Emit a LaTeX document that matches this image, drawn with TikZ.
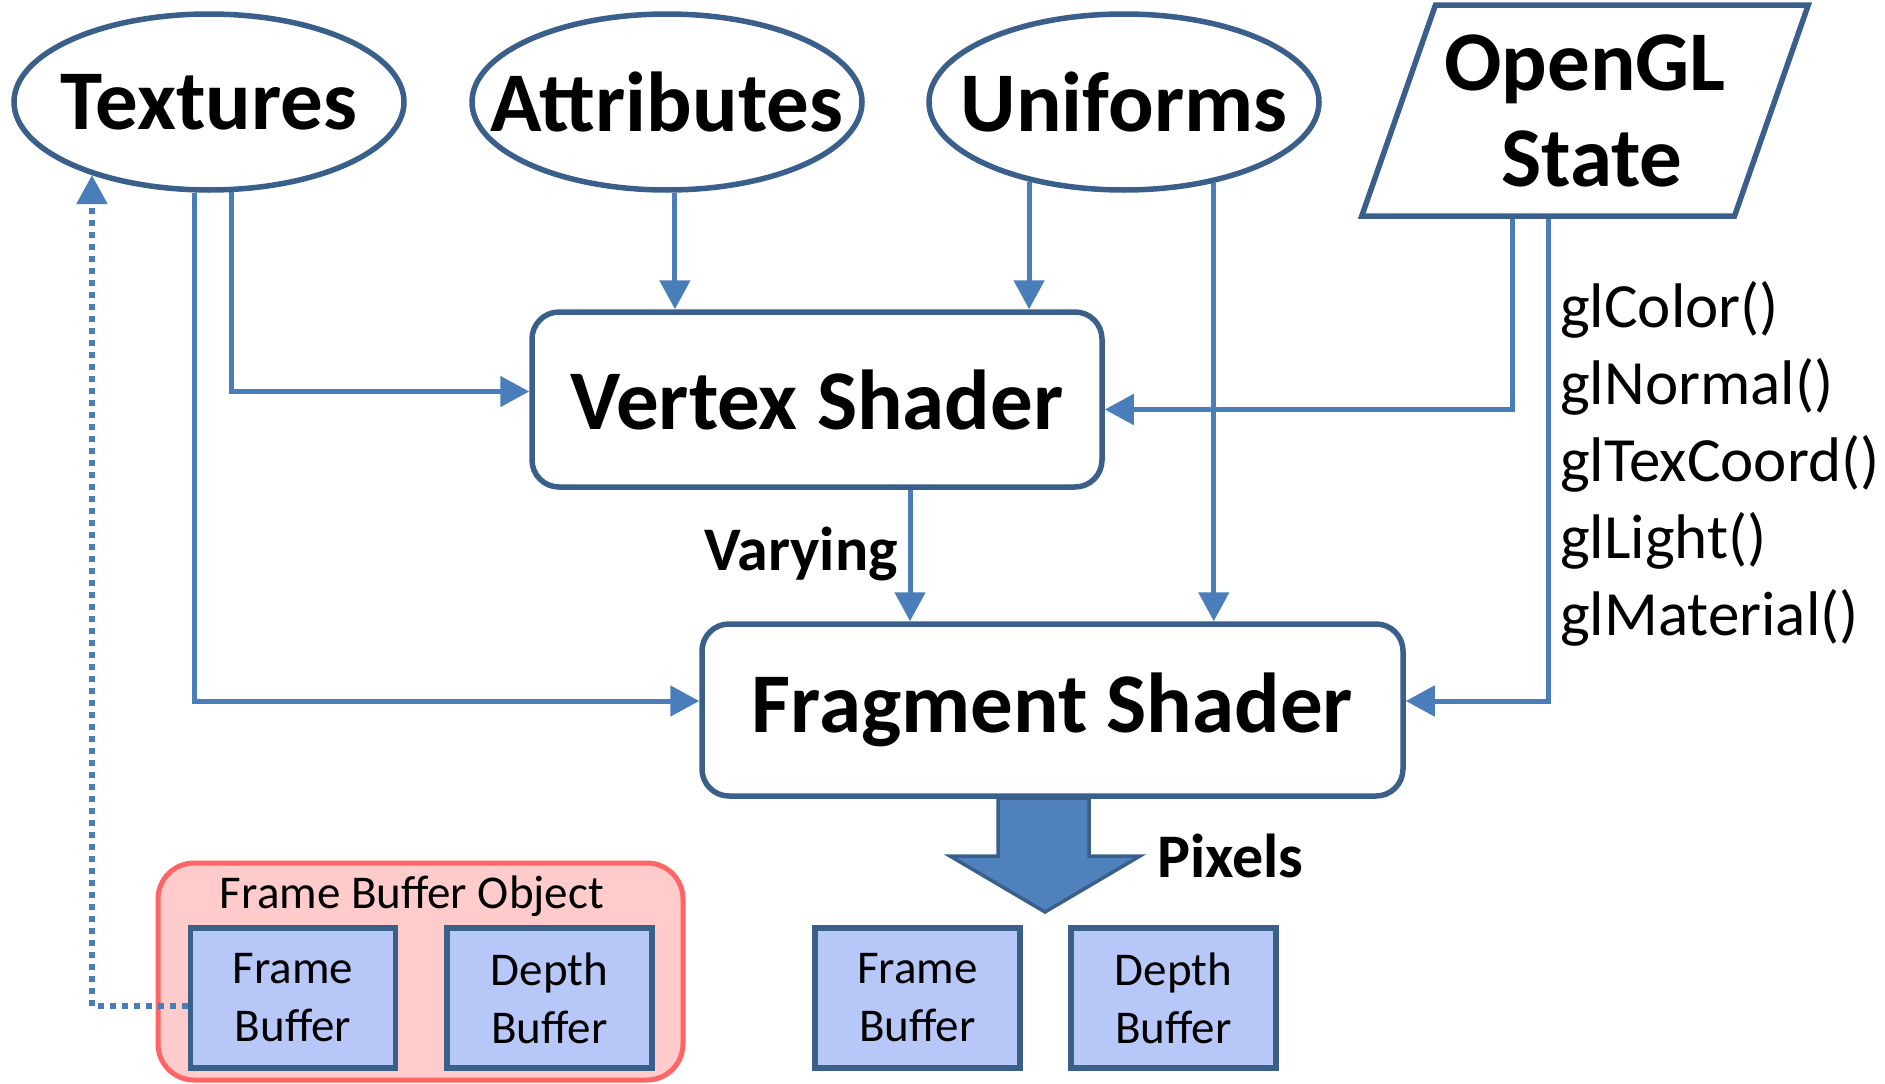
\documentclass[tikz,border=0pt]{standalone}
\usepackage{fontspec}
\setmainfont{Carlito}
\usetikzlibrary{arrows.meta,shapes.geometric,calc}

\definecolor{outlineblue}{HTML}{3A5F8B}
\definecolor{lineblue}{HTML}{4A7EBB}
\definecolor{arrowfill}{HTML}{4F81BD}
\definecolor{bufferfill}{HTML}{B7C8F8}
\definecolor{fbofill}{HTML}{FFCBCB}
\definecolor{fboline}{HTML}{FF6565}

\begin{document}
\begin{tikzpicture}[x=1pt,y=-1pt,
  bigfont/.style={font=\fontsize{85}{96}\selectfont\bfseries},
  src/.style={ellipse, draw=outlineblue, line width=5.5pt, fill=white,
    minimum width=390pt, minimum height=176pt, inner xsep=-60pt,
    inner ysep=0pt, bigfont},
  shader/.style={rectangle, rounded corners=27pt, draw=outlineblue,
    line width=5.5pt, fill=white, inner sep=0pt, bigfont},
  buf/.style={rectangle, draw=outlineblue, fill=bufferfill, line width=5.5pt,
    minimum width=205pt, minimum height=140pt, inner sep=0pt, align=center,
    font=\fontsize{47}{58}\selectfont},
  conn/.style={draw=lineblue, line width=5pt,
    -{Triangle[length=29pt,width=30pt]}},
  dotconn/.style={conn, line width=5.5pt, dash pattern=on 5.5pt off 6.5pt},
  midlabel/.style={font=\fontsize{62}{73}\selectfont\bfseries},
  call/.style={font=\fontsize{63}{73}\selectfont, anchor=base west, inner sep=0pt}
]
\useasboundingbox (0,0) rectangle (1885,1084);

% inputs
\node[src] (tex) at (209,102) {Textures};
\node[src] (att) at (667,102) {Attributes};
\node[src] (uni) at (1124,102) {Uniforms};
\node[trapezium, trapezium left angle=65.5, trapezium right angle=114.5,
  trapezium stretches=true, minimum width=449pt, minimum height=211pt,
  draw=outlineblue, line width=5.5pt, inner sep=0pt, align=center, bigfont]
  (gl) at (1585,110.5) {OpenGL\\[0pt]\hspace*{14pt}State};

% shaders
\node[shader, minimum width=570pt, minimum height=175pt] (vs) at (817,399.5) {Vertex Shader};
\node[shader, minimum width=701pt, minimum height=172pt] (fs) at (1052.5,710) {Fragment Shader};

% frame buffer object
\node[rectangle, rounded corners=36pt, draw=fboline, fill=fbofill, line width=5pt,
  minimum width=525pt, minimum height=217pt] (fbo) at (420.5,971.5) {};
\node[font=\fontsize{47}{58}\selectfont, anchor=base, inner sep=0pt] (fbolbl) at (412,908) {Frame Buffer Object};
\node[buf] (fb1) at (293,998) {Frame\\Buffer};
\node[buf] (db1) at (549.5,998) {Depth\\Buffer};

% output buffers
\node[buf] (fb2) at (917.5,998) {Frame\\Buffer};
\node[buf] (db2) at (1173.5,998) {Depth\\Buffer};

% helper points on the shader and state borders
\coordinate (glA) at ([xshift=-73pt]gl.south);
\coordinate (glB) at ([xshift=-37pt]gl.south);
\coordinate (vsOut) at ([xshift=93pt]vs.south);

% connectors
\draw[conn] (att.275) -- (att.275 |- vs.north);
\draw[conn] (uni.220) -- (uni.220 |- vs.north);
\draw[conn] (uni.318) -- (uni.318 |- fs.north);
\draw[conn] (tex.284) |- ([yshift=8pt]vs.west);
\draw[conn] (tex.261) |- ([yshift=9pt]fs.west);
\draw[conn] (glA) |- ([yshift=-10pt]vs.east);
\draw[conn] (glB) |- ([yshift=9pt]fs.east);
\draw[conn] (vsOut) -- (vsOut |- fs.north);
\draw[dotconn] ([yshift=-8pt]fb1.west) -| (tex.212);

% pixel output arrow
\draw[fill=arrowfill, draw=outlineblue, line width=3.5pt, line join=miter]
  (998,798) -- (1089,798) -- (1089,856) -- (1140,856) -- (1045,912)
  -- (950,856) -- (998,856) -- cycle;

% labels
\node[midlabel, anchor=base east, inner sep=0pt] (vary) at (898,570) {Varying};
\node[midlabel, anchor=base west, inner sep=0pt] (pix) at (1157,877) {Pixels};

\node[call] (c1) at (1560,327) {glColor()};
\node[call] (c2) at (1560,404) {glNormal()};
\node[call] (c3) at (1560,481) {glTexCoord()};
\node[call] (c4) at (1560,558) {glLight()};
\node[call] (c5) at (1560,635) {glMaterial()};
\end{tikzpicture}
\end{document}
